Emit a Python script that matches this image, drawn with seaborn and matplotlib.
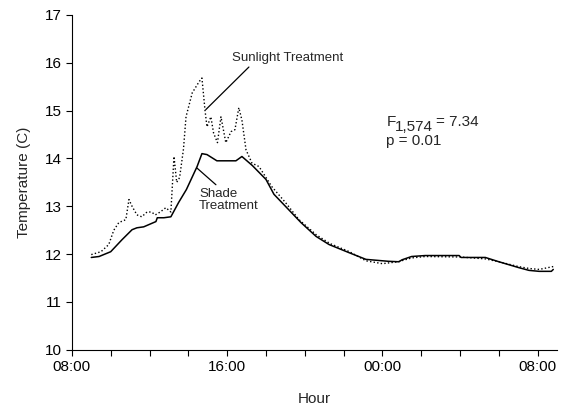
import matplotlib
matplotlib.use("Agg")
import matplotlib.pyplot as plt
import seaborn as sns
import pandas as pd

# Hours since 08:00
shade_hours = [1.0, 1.4, 2.0, 2.58, 3.1, 3.35, 3.7, 4.33, 4.4, 4.74, 5.1, 5.5, 5.9, 6.45,
               6.7, 6.96, 7.47, 8.45, 8.76, 9.3, 10.0, 10.41, 11.0, 11.8, 12.58, 13.25,
               14.28, 15.15, 16.3, 16.85, 17.0, 17.5, 18.2, 19.95, 20.05, 21.3, 22.0, 23.0,
               23.55, 24.07, 24.7, 24.8]
shade_temp = [11.93, 11.95, 12.05, 12.3, 12.51, 12.55, 12.57, 12.68, 12.76, 12.76, 12.78,
              13.08, 13.35, 13.83, 14.1, 14.08, 13.95, 13.95, 14.04, 13.85, 13.56, 13.25,
              13.0, 12.66, 12.37, 12.2, 12.03, 11.89, 11.85, 11.84, 11.88, 11.95, 11.97,
              11.97, 11.93, 11.93, 11.84, 11.72, 11.66, 11.64, 11.64, 11.68]

sun_hours = [1.0, 1.5, 1.9, 2.16, 2.42, 2.78, 2.94, 3.1, 3.35, 3.6, 3.87, 4.1, 4.3, 4.55,
             4.84, 5.1, 5.26, 5.4, 5.55, 5.75, 5.88, 6.2, 6.55, 6.7, 6.86, 6.96, 7.16, 7.3,
             7.5, 7.68, 7.93, 8.2, 8.4, 8.6, 8.76, 8.97, 9.28, 9.64, 10.3, 11.0, 11.7,
             12.6, 13.3, 14.3, 15.15, 16.0, 16.8, 17.5, 18.2, 20.0, 21.3, 22.0, 23.0, 23.55,
             24.07, 24.8]
sun_temp = [11.99, 12.05, 12.2, 12.5, 12.66, 12.72, 13.14, 13.0, 12.82, 12.78, 12.88, 12.88,
            12.82, 12.88, 12.97, 12.88, 14.04, 13.5, 13.6, 14.2, 14.87, 15.37, 15.6, 15.68,
            15.0, 14.66, 14.87, 14.53, 14.33, 14.87, 14.33, 14.56, 14.6, 15.06, 14.8, 14.18,
            13.9, 13.83, 13.41, 13.08, 12.72, 12.4, 12.22, 12.05, 11.86, 11.8, 11.84, 11.92,
            11.95, 11.94, 11.9, 11.84, 11.74, 11.7, 11.68, 11.74]

tick_hours = [0, 8, 16, 24]
tick_labels = ["08:00", "16:00", "00:00", "08:00"]

sns.set_style("ticks")
plt.rcParams['font.family'] = ['Liberation Sans', 'DejaVu Sans']

fig = plt.figure(figsize=(5.75, 4.13), dpi=100)
ax = fig.add_axes([0.125, 0.153, 0.844, 0.811])

shade_df = pd.DataFrame({"hour": shade_hours, "temp": shade_temp})
sun_df = pd.DataFrame({"hour": sun_hours, "temp": sun_temp})

sns.lineplot(data=sun_df, x="hour", y="temp", ax=ax, color="black", linewidth=1.0,
             linestyle=(0, (1, 1.6)), sort=False)
sns.lineplot(data=shade_df, x="hour", y="temp", ax=ax, color="black", linewidth=1.1,
             sort=False)

ax.set_xlim(0, 25)
ax.set_ylim(10, 17)
ax.set_xticks(tick_hours)
ax.set_xticklabels(tick_labels)
ax.set_xticks(list(range(0, 25, 2)), minor=True)
ax.set_yticks(range(10, 18))
ax.tick_params(axis='both', which='major', labelsize=11, direction='out', length=4,
               width=0.8, color='black', labelcolor='black')
ax.tick_params(axis='x', which='minor', direction='out', length=4, width=0.8, color='black')
ax.set_xlabel("Hour", fontsize=11, labelpad=13)
ax.set_ylabel("Temperature (C)", fontsize=11, labelpad=10)
for s in ['top', 'right']:
    ax.spines[s].set_visible(False)
for s in ['left', 'bottom']:
    ax.spines[s].set_color('black')
    ax.spines[s].set_linewidth(0.8)

ax.text(8.25, 16.1, "Sunlight Treatment", fontsize=9.5, va='center', ha='left')
ax.plot([9.12, 6.9], [15.91, 15.02], color='black', linewidth=0.9)
ax.text(6.55, 13.14, "Shade\nTreatment", fontsize=9.5, va='center', ha='left', linespacing=1.0)
ax.plot([7.42, 6.44], [13.45, 13.8], color='black', linewidth=0.9)

fx, fy = 16.2, 14.668
fs = 11
ax.annotate("F", xy=(fx, fy), xytext=(0, 0), textcoords='offset points',
            fontsize=fs, va='baseline', ha='left')
ax.annotate("1,574", xy=(fx, fy), xytext=(6.3, -3.6), textcoords='offset points',
            fontsize=fs, va='baseline', ha='left')
ax.annotate("= 7.34", xy=(fx, fy), xytext=(35.5, 0), textcoords='offset points',
            fontsize=fs, va='baseline', ha='left')
ax.text(fx, 14.27, "p = 0.01", fontsize=fs, va='baseline', ha='left')

fig.savefig("out.png", dpi=100)
